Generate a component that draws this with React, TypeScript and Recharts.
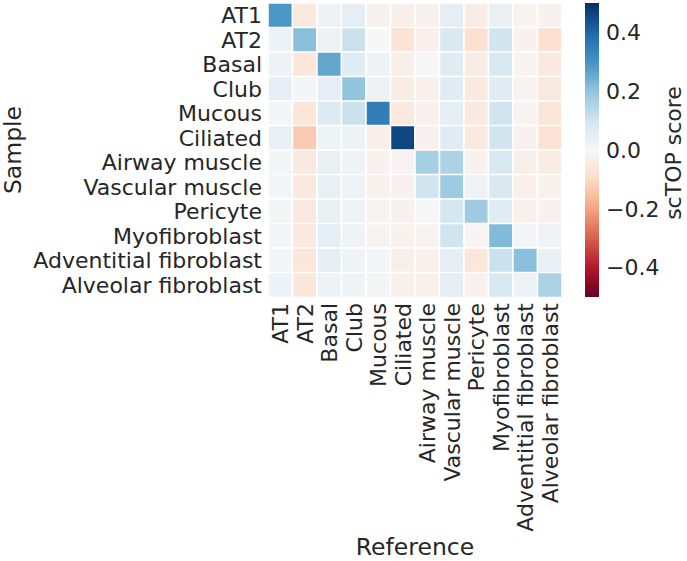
import React from "react";
import { Bar, BarChart, Cell, Label, XAxis, YAxis } from "recharts";

const samples = [
  "AT1",
  "AT2",
  "Basal",
  "Club",
  "Mucous",
  "Ciliated",
  "Airway muscle",
  "Vascular muscle",
  "Pericyte",
  "Myofibroblast",
  "Adventitial fibroblast",
  "Alveolar fibroblast",
];

const references = [...samples];

// scTOP score of each sample (row) against every reference (column)
const scoresAT1 = [0.29, -0.05, 0.03, 0.05, -0.02, -0.03, -0.02, 0.05, -0.04, 0.04, -0.015, -0.02];
const scoresAT2 = [0.03, 0.21, 0.03, 0.11, 0.0, -0.07, -0.025, 0.08, -0.08, 0.1, -0.02, -0.08];
const scoresBasal = [0.03, -0.06, 0.26, 0.06, 0.03, -0.03, 0.0, 0.06, -0.04, 0.08, -0.01, -0.05];
const scoresClub = [0.05, 0.01, 0.05, 0.2, 0.03, -0.04, -0.025, 0.06, -0.05, 0.06, -0.015, -0.05];
const scoresMucous = [0.01, -0.06, 0.07, 0.11, 0.35, -0.05, -0.02, 0.05, -0.05, 0.1, -0.015, -0.06];
const scoresCiliated = [0.04, -0.13, 0.025, 0.03, -0.03, 0.46, -0.02, 0.06, -0.05, 0.1, -0.02, -0.07];
const scoresAirway = [0.01, -0.05, 0.04, 0.02, -0.02, -0.015, 0.17, 0.16, -0.02, 0.08, -0.03, -0.04];
const scoresVascular = [0.01, -0.05, 0.04, 0.02, -0.02, -0.02, 0.1, 0.18, 0.02, 0.08, -0.025, -0.02];
const scoresPericyte = [0.01, -0.05, 0.04, 0.02, -0.015, -0.02, 0.005, 0.09, 0.18, 0.06, -0.025, -0.02];
const scoresMyofib = [0.01, -0.05, 0.05, 0.02, -0.015, -0.02, -0.015, 0.1, -0.01, 0.22, 0.01, 0.02];
const scoresAdventitial = [0.01, -0.06, 0.05, 0.02, 0.01, -0.03, -0.025, 0.05, -0.06, 0.11, 0.21, 0.04];
const scoresAlveolar = [0.03, -0.06, 0.03, 0.02, 0.01, -0.025, -0.025, 0.05, -0.02, 0.08, 0.03, 0.16];

const scores = [
  scoresAT1,
  scoresAT2,
  scoresBasal,
  scoresClub,
  scoresMucous,
  scoresCiliated,
  scoresAirway,
  scoresVascular,
  scoresPericyte,
  scoresMyofib,
  scoresAdventitial,
  scoresAlveolar,
];

const colorbarTicks = [-0.4, -0.2, 0, 0.2, 0.4];
const VMIN = -0.5;
const VMAX = 0.5;

// matplotlib RdBu
const RDBU = [
  "#67001f", "#b2182b", "#d6604d", "#f4a582", "#fddbc7", "#f7f7f7",
  "#d1e5f0", "#92c5de", "#4393c3", "#2166ac", "#053061",
];

const TEXT = "#262626";
const FONT = "DejaVu Sans";

function hexToRgb(h: string) {
  return [1, 3, 5].map((i) => parseInt(h.slice(i, i + 2), 16));
}

function rdbu(v: number) {
  const t = Math.min(1, Math.max(0, (v - VMIN) / (VMAX - VMIN)));
  const pos = t * (RDBU.length - 1);
  const i = Math.min(RDBU.length - 2, Math.floor(pos));
  const f = pos - i;
  const a = hexToRgb(RDBU[i]);
  const b = hexToRgb(RDBU[i + 1]);
  const c = a.map((x, k) => Math.round(x + (b[k] - x) * f));
  return `rgb(${c[0]},${c[1]},${c[2]})`;
}

const cellData = samples.map((name) => {
  const row: Record<string, string | number> = { name };
  references.forEach((_, j) => {
    row[`c${j}`] = 1;
  });
  return row;
});

const colorbarData = [{ name: "cb", range: [VMIN, VMAX] }];

function RefTick(props: any) {
  const { x, y, payload } = props;
  const label = references[Math.floor(payload.value)];
  return (
    <text
      x={x}
      y={y}
      transform={`rotate(-90 ${x} ${y})`}
      textAnchor="end"
      dy="0.36em"
      fontSize={22}
      fontFamily={FONT}
      fill={TEXT}
    >
      {label}
    </text>
  );
}

const fmt = (v: number) => v.toFixed(1).replace("-", "\u2212");

export default function App() {
  return (
    <div
      style={{
        position: "absolute",
        left: 0,
        top: 0,
        width: 687,
        height: 561,
        background: "#fff",
        fontFamily: FONT,
      }}
    >
      <div style={{ position: "absolute", left: 0, top: 0 }}>
        <BarChart
          width={580}
          height={561}
          data={cellData}
          layout="vertical"
          barCategoryGap={0}
          margin={{ top: 3, right: 18, bottom: 0, left: 0 }}
        >
          <XAxis
            type="number"
            domain={[0, references.length]}
            ticks={references.map((_, j) => j + 0.5)}
            interval={0}
            tick={<RefTick />}
            axisLine={false}
            tickLine={false}
            tickSize={0}
            tickMargin={6}
            height={264}
          >
            <Label
              value="Reference"
              position="insideBottom"
              offset={6}
              fontSize={23.5}
              fill={TEXT}
              fontFamily={FONT}
            />
          </XAxis>
          <YAxis
            type="category"
            dataKey="name"
            width={268}
            axisLine={false}
            tickLine={false}
            tickSize={0}
            tickMargin={6}
            interval={0}
            tick={{ fontSize: 22, fill: TEXT, fontFamily: FONT }}
          >
            <Label
              content={() => (
                <text
                  x={21}
                  y={150}
                  transform="rotate(-90 21 150)"
                  textAnchor="middle"
                  fontSize={23.5}
                  fill={TEXT}
                  fontFamily={FONT}
                >
                  Sample
                </text>
              )}
            />
          </YAxis>
          {references.map((ref, j) => (
            <Bar
              key={ref}
              dataKey={`c${j}`}
              name={ref}
              stackId="cells"
              isAnimationActive={false}
            >
              {samples.map((s, i) => (
                <Cell key={s} fill={rdbu(scores[i][j])} stroke="#fff" strokeWidth={1.5} />
              ))}
            </Bar>
          ))}
        </BarChart>
      </div>
      <div style={{ position: "absolute", left: 585, top: 0 }}>
        <BarChart
          width={102}
          height={300}
          data={colorbarData}
          barCategoryGap={0}
          margin={{ top: 3, right: 0, bottom: 3, left: 0 }}
        >
          <defs>
            <linearGradient id="cbGrad" x1="0" y1="0" x2="0" y2="1">
              {RDBU.slice()
                .reverse()
                .map((c, k) => (
                  <stop key={k} offset={`${(k / (RDBU.length - 1)) * 100}%`} stopColor={c} />
                ))}
            </linearGradient>
          </defs>
          <XAxis dataKey="name" type="category" hide />
          <YAxis
            type="number"
            orientation="right"
            domain={[VMIN, VMAX]}
            ticks={colorbarTicks}
            tickFormatter={fmt}
            width={88}
            axisLine={false}
            tickLine={false}
            tickSize={0}
            tickMargin={7}
            tick={{ fontSize: 22, fill: TEXT, fontFamily: FONT }}
          >
            <Label
              content={() => (
                <text
                  x={96}
                  y={153}
                  transform="rotate(-90 96 153)"
                  textAnchor="middle"
                  fontSize={22}
                  fill={TEXT}
                  fontFamily={FONT}
                >
                  scTOP score
                </text>
              )}
            />
          </YAxis>
          <Bar dataKey="range" fill="url(#cbGrad)" isAnimationActive={false} />
        </BarChart>
      </div>
    </div>
  );
}
